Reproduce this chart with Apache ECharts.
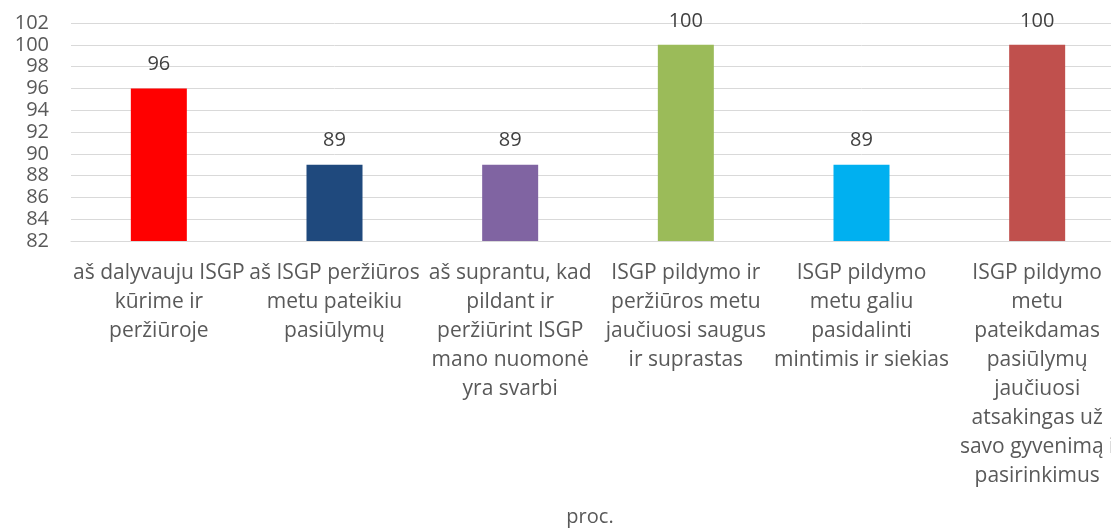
<!DOCTYPE html>
<html>
<head>
<meta charset="utf-8">
<script src="https://cdn.jsdelivr.net/npm/echarts@6/dist/echarts.min.js"></script>
<style>
	html, body { margin: 0; padding: 0; background: #fff; overflow: hidden; }
	/* a little wider than the window: the plot area runs past the right edge, as in the original */
	#myChart { width: 1125px; height: 528px; }
</style>
</head>
<body>
<div id="myChart"></div>
<script>
	var categories = [
		"aš dalyvauju ISGP\nkūrime ir\nperžiūroje",
		"aš ISGP peržiūros\nmetu pateikiu\npasiūlymų",
		"aš suprantu, kad\npildant ir\nperžiūrint ISGP\nmano nuomonė\nyra svarbi",
		"ISGP pildymo ir\nperžiūros metu\njaučiuosi saugus\nir suprastas",
		"ISGP pildymo\nmetu galiu\npasidalinti\nmintimis ir siekias",
		"ISGP pildymo\nmetu\npateikdamas\npasiūlymų\njaučiuosi\natsakingas už\nsavo gyvenimą i\npasirinkimus"
	];
	var values = [96, 89, 89, 100, 89, 100];
	var barColors = ["#FF0000", "#1F497D", "#8064A2", "#9BBB59", "#00B0F0", "#C0504D"];
	var axisName = "proc.";

	var font = "'Open Sans', 'Noto Sans', sans-serif";
	var myChart = echarts.init(document.getElementById('myChart'));
	var option = {
		animation: false,
		textStyle: { fontFamily: font },
		grid: { left: 71, right: 0, top: 23, bottom: 287 },
		xAxis: {
			type: "category",
			data: categories,
			name: axisName,
			nameLocation: "middle",
			nameGap: 266,
			nameTextStyle: { color: "#595959", fontSize: 20, fontFamily: font, padding: [0, 16, 0, 0] },
			axisTick: { show: false },
			axisLine: { lineStyle: { color: "#D9D9D9", width: 1 } },
			axisLabel: {
				interval: 0,
				color: "#595959",
				fontSize: 21,
				lineHeight: 29,
				margin: 18,
				fontFamily: font
			}
		},
		yAxis: {
			type: "value",
			min: 82,
			max: 102,
			interval: 2,
			axisLine: { show: false },
			axisTick: { show: false },
			splitLine: { lineStyle: { color: "#D9D9D9", width: 1 } },
			axisLabel: { color: "#595959", fontSize: 20, margin: 22, fontFamily: font }
		},
		series: [{
			type: "bar",
			barWidth: 56,
			data: values.map(function (v, i) {
				return { value: v, itemStyle: { color: barColors[i] } };
			}),
			label: {
				show: true,
				position: "top",
				distance: 14,
				color: "#404040",
				fontSize: 20,
				fontFamily: font
			}
		}]
	};
	myChart.setOption(option);
</script>
</body>
</html>
